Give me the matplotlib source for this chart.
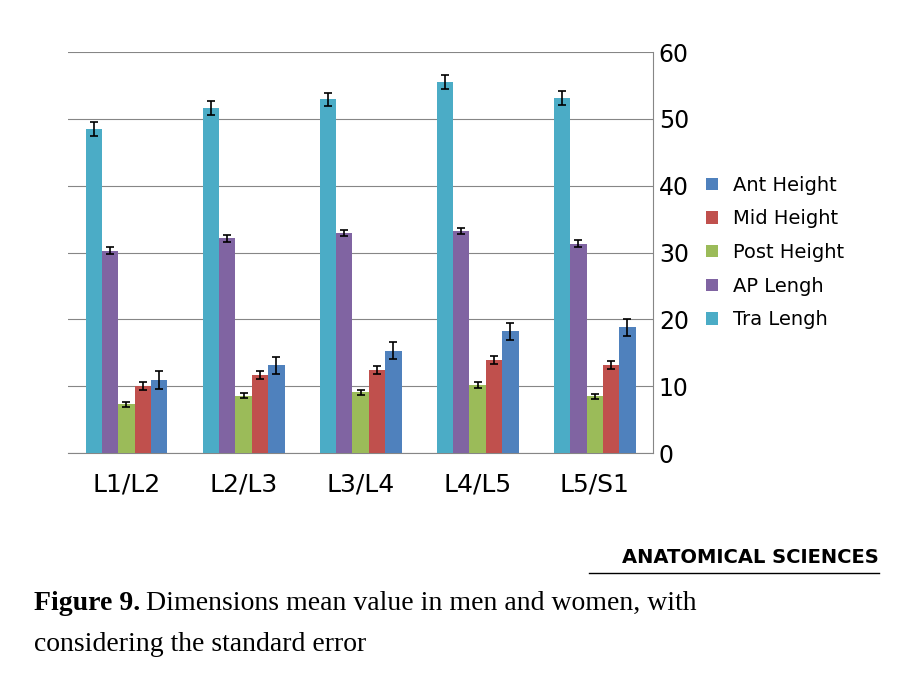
import matplotlib.pyplot as plt
import numpy as np

cats = ["L1/L2", "L2/L3", "L3/L4", "L4/L5", "L5/S1"]
series = ["Ant Height", "Mid Height", "Post Height", "AP Lengh", "Tra Lengh"]
colors = ["#4F81BD", "#C0504D", "#9BBB59", "#8064A2", "#4BACC6"]
vals = {
    "Ant Height": [10.9, 13.1, 15.3, 18.2, 18.8],
    "Mid Height": [10.1, 11.7, 12.4, 13.9, 13.1],
    "Post Height": [7.3, 8.6, 9.1, 10.2, 8.5],
    "AP Lengh": [30.3, 32.1, 32.9, 33.2, 31.3],
    "Tra Lengh": [48.5, 51.6, 52.9, 55.5, 53.1],
}
errs = {"Ant Height": 1.3, "Mid Height": 0.6, "Post Height": 0.4, "AP Lengh": 0.5, "Tra Lengh": 1.0}

fig = plt.figure(figsize=(9.06, 6.89), dpi=100)
ax = fig.add_axes([0.075, 0.3425, 0.646, 0.582])
x = np.arange(len(cats))
w = 0.14
order = ["Tra Lengh", "AP Lengh", "Post Height", "Mid Height", "Ant Height"]
handles = {}
for i, s in enumerate(order):
    c = colors[series.index(s)]
    b = ax.bar(x + (i - 2) * w, vals[s], w, color=c, yerr=errs[s], capsize=3,
               error_kw=dict(elinewidth=1.2, capthick=1.2, ecolor="black"), zorder=3)
    handles[s] = b
ax.set_ylim(0, 60)
ax.set_xlim(-0.5, 4.5)
ax.set_yticks(range(0, 61, 10))
ax.yaxis.tick_right()
ax.tick_params(axis="y", length=0, labelsize=17, pad=4)
ax.tick_params(axis="x", length=0, labelsize=18, pad=14)
ax.set_xticks(x)
ax.set_xticklabels(cats)
ax.grid(axis="y", color="#868686", lw=0.8, zorder=0)
for sp in ["top", "left"]:
    ax.spines[sp].set_visible(False)
ax.spines["right"].set_color("#868686")
ax.spines["bottom"].set_color("#868686")
ax.legend([handles[s] for s in series], series, loc="center left", bbox_to_anchor=(1.06, 0.5),
          frameon=False, fontsize=14, handlelength=0.6, handleheight=0.6, labelspacing=0.75)

fig.text(0.97, 0.183, "ANATOMICAL SCIENCES", ha="right", fontsize=14, fontweight="bold", family="DejaVu Sans")
fig.add_artist(plt.Line2D([0.65, 0.97], [0.168, 0.168], color="black", lw=1))
t1 = fig.text(0.038, 0.115, "Figure 9.", fontsize=20, fontweight="bold", family="Liberation Serif")
fig.canvas.draw()
bb = t1.get_window_extent().transformed(fig.transFigure.inverted())
fig.text(bb.x1 + 0.006, 0.115, "Dimensions mean value in men and women, with", fontsize=20, family="Liberation Serif")
fig.text(0.038, 0.055, "considering the standard error", fontsize=20, family="Liberation Serif")
fig.savefig("out.png")
